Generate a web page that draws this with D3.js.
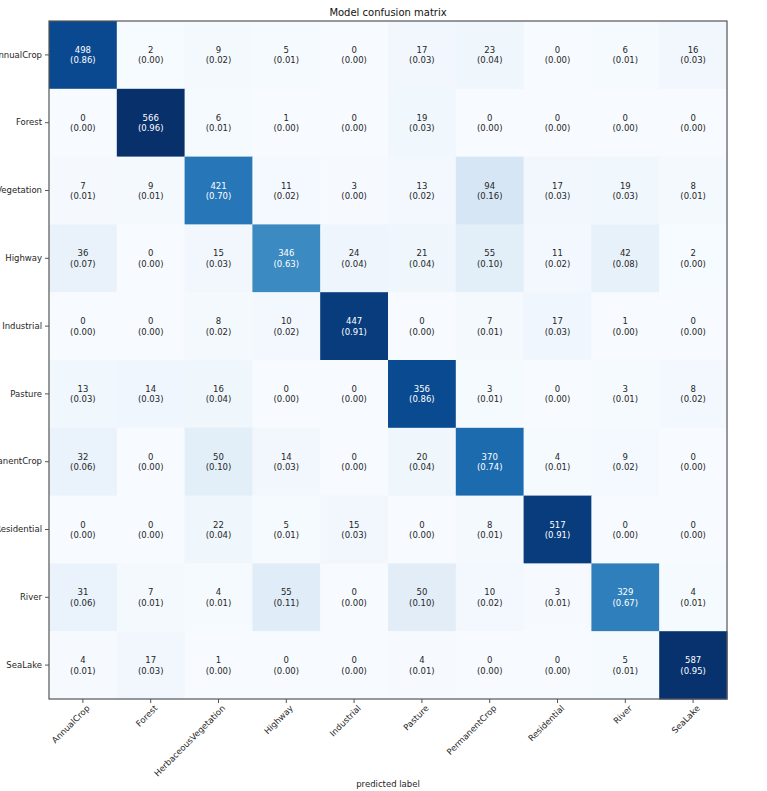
<!DOCTYPE html>
<html>
<head>
<meta charset="utf-8">
<script src="https://cdn.jsdelivr.net/npm/d3@7"></script>
<style>
  html, body { margin: 0; padding: 0; background: #fff; }
  svg { display: block; font-family: "DejaVu Sans", sans-serif; }
</style>
</head>
<body>
<svg id="chart" width="767" height="791"></svg>
<script>
// ---- data ----
const classes = ["AnnualCrop", "Forest", "HerbaceousVegetation", "Highway", "Industrial",
                 "Pasture", "PermanentCrop", "Residential", "River", "SeaLake"];
const rowAnnualCrop = [498, 2, 9, 5, 0, 17, 23, 0, 6, 16];
const rowForest = [0, 566, 6, 1, 0, 19, 0, 0, 0, 0];
const rowHerbaceous = [7, 9, 421, 11, 3, 13, 94, 17, 19, 8];
const rowHighway = [36, 0, 15, 346, 24, 21, 55, 11, 42, 2];
const rowIndustrial = [0, 0, 8, 10, 447, 0, 7, 17, 1, 0];
const rowPasture = [13, 14, 16, 0, 0, 356, 3, 0, 3, 8];
const rowPermanentCrop = [32, 0, 50, 14, 0, 20, 370, 4, 9, 0];
const rowResidential = [0, 0, 22, 5, 15, 0, 8, 517, 0, 0];
const rowRiver = [31, 7, 4, 55, 0, 50, 10, 3, 329, 4];
const rowSeaLake = [4, 17, 1, 0, 0, 4, 0, 0, 5, 587];
const titleText = "Model confusion matrix";
const xLabelText = "predicted label";

const matrix = [rowAnnualCrop, rowForest, rowHerbaceous, rowHighway, rowIndustrial,
                rowPasture, rowPermanentCrop, rowResidential, rowRiver, rowSeaLake];

// ---- layout ----
const svg = d3.select("#chart");
const mLeft = 49, mTop = 21, size = 678;

const x = d3.scaleBand().domain(d3.range(classes.length)).range([mLeft, mLeft + size]).padding(0);
const y = d3.scaleBand().domain(d3.range(classes.length)).range([mTop, mTop + size]).padding(0);

const cells = [];
matrix.forEach((row, i) => {
  const s = d3.sum(row);
  row.forEach((v, j) => cells.push({ i, j, v, p: v / s }));
});
const pmax = d3.max(cells, d => d.p);
const color = d3.scaleSequential(d3.interpolateBlues).domain([0, pmax]);

const g = svg.append("g");
g.selectAll("rect.cell").data(cells).enter().append("rect")
  .attr("class", "cell")
  .attr("x", d => x(d.j)).attr("y", d => y(d.i))
  .attr("width", x.bandwidth() + 0.5).attr("height", y.bandwidth() + 0.5)
  .attr("fill", d => color(d.p));

const txt = g.selectAll("text.val").data(cells).enter().append("text")
  .attr("class", "val")
  .attr("x", d => x(d.j) + x.bandwidth() / 2)
  .attr("y", d => y(d.i) + y.bandwidth() / 2)
  .attr("text-anchor", "middle")
  .attr("font-size", "8.5px")
  .attr("fill", d => d.p > pmax / 2 ? "#ffffff" : "#262626");
txt.append("tspan").attr("x", d => x(d.j) + x.bandwidth() / 2).attr("dy", "-2px").text(d => d.v);
txt.append("tspan").attr("x", d => x(d.j) + x.bandwidth() / 2).attr("dy", "10.5px").text(d => "(" + d.p.toFixed(2) + ")");

// frame
svg.append("rect").attr("x", mLeft).attr("y", mTop).attr("width", size).attr("height", size)
  .attr("fill", "none").attr("stroke", "#555").attr("stroke-width", 1.2);

// axes
const xAxis = d3.axisBottom(x).tickSize(4).tickPadding(3).tickFormat(i => classes[i]);
const xg = svg.append("g").attr("transform", `translate(0,${mTop + size})`).call(xAxis);
xg.select(".domain").remove();
xg.selectAll(".tick line").attr("stroke", "#555");
xg.selectAll(".tick text")
  .attr("font-size", "8.5px").attr("font-family", "DejaVu Sans, sans-serif").attr("fill", "#262626")
  .attr("text-anchor", "end")
  .attr("transform", "rotate(-45)")
  .attr("dx", "-0.2em").attr("dy", "0.6em");

const yAxis = d3.axisLeft(y).tickSize(4).tickPadding(3).tickFormat(i => classes[i]);
const yg = svg.append("g").attr("transform", `translate(${mLeft},0)`).call(yAxis);
yg.select(".domain").remove();
yg.selectAll(".tick line").attr("stroke", "#555");
yg.selectAll(".tick text")
  .attr("font-size", "8.5px").attr("font-family", "DejaVu Sans, sans-serif").attr("fill", "#262626");

// title and label
svg.append("text").attr("x", mLeft + size / 2).attr("y", 16).attr("text-anchor", "middle")
  .attr("font-size", "10px").attr("fill", "#111").text(titleText);
svg.append("text").attr("x", mLeft + size / 2).attr("y", 787).attr("text-anchor", "middle")
  .attr("font-size", "8.5px").attr("fill", "#262626").text(xLabelText);
</script>
</body>
</html>
